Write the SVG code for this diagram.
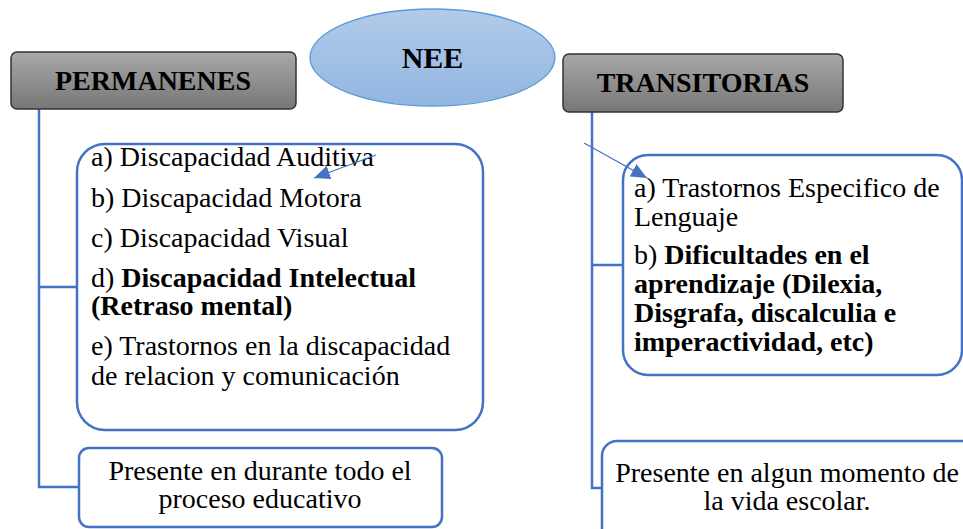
<svg xmlns="http://www.w3.org/2000/svg" width="963" height="529" viewBox="0 0 963 529" font-family="'Liberation Serif', 'DejaVu Serif', serif">
<defs>
<linearGradient id="gray" x1="0" y1="0" x2="0" y2="1">
<stop offset="0" stop-color="#a8a8a8"/>
<stop offset="1" stop-color="#777777"/>
</linearGradient>
<linearGradient id="blue" x1="0" y1="0" x2="0" y2="1">
<stop offset="0" stop-color="#b2cbe9"/>
<stop offset="1" stop-color="#92b6e1"/>
</linearGradient>
<marker id="arr" markerUnits="userSpaceOnUse" markerWidth="18" markerHeight="14" refX="16" refY="7" orient="auto">
<path d="M0,0 L16,7 L0,14 Z" fill="#4472c4"/>
</marker>
</defs>
<style>
text{fill:#000;font-size:28px}
.b{font-weight:bold}
.hdr{fill:url(#gray);stroke:#333;stroke-width:1.5}
.box{fill:#fff;stroke:#4472c4;stroke-width:2.5}
.conn{fill:none;stroke:#4472c4;stroke-width:2.5}
.arrow{fill:none;stroke:#4472c4;stroke-width:1.3}
.c{text-anchor:middle}
</style>
<rect width="963" height="529" fill="#fff"/>
<g id="connectors">
<polyline class="conn" points="39,109 39,487 79,487"/>
<line class="conn" x1="39" y1="287" x2="77" y2="287"/>
<polyline class="conn" points="592,112 592,488 602,488"/>
<line class="conn" x1="592" y1="265" x2="623" y2="265"/>
</g>
<g id="nee">
<ellipse cx="432.5" cy="57.5" rx="122.5" ry="48.5" fill="url(#blue)" stroke="#5b9bd5" stroke-width="1.3"/>
<text class="b c" x="432.5" y="68" style="font-size:30px">NEE</text>
</g>
<g id="permanenes">
<rect class="hdr" x="11" y="52" width="285" height="57" rx="6"/>
<text class="b c" x="153" y="90">PERMANENES</text>
</g>
<g id="transitorias">
<rect class="hdr" x="563" y="54" width="280" height="58" rx="6"/>
<text class="b c" x="703" y="92">TRANSITORIAS</text>
</g>
<g id="perm-list">
<rect class="box" x="77" y="144" width="406" height="286" rx="28"/>
<text x="91" y="166">a) Discapacidad Auditiva</text>
<text x="91" y="207">b) Discapacidad Motora</text>
<text x="91" y="247">c) Discapacidad Visual</text>
<text x="91" y="287">d) <tspan class="b">Discapacidad Intelectual</tspan></text>
<text x="91" y="315" class="b">(Retraso mental)</text>
<text x="91" y="355">e) Trastornos en la discapacidad</text>
<text x="91" y="385">de relacion y comunicación</text>
</g>
<g id="perm-note">
<rect class="box" x="79" y="448" width="363" height="79" rx="10"/>
<text class="c" x="260" y="480">Presente en durante todo el</text>
<text class="c" x="260" y="508">proceso educativo</text>
</g>
<g id="trans-list">
<rect class="box" x="623" y="155" width="339" height="220" rx="25"/>
<text x="634" y="197">a) Trastornos Especifico de</text>
<text x="634" y="226">Lenguaje</text>
<text x="634" y="264">b) <tspan class="b">Dificultades en el</tspan></text>
<text x="634" y="293" class="b">aprendizaje (Dilexia,</text>
<text x="634" y="322" class="b">Disgrafa, discalculia e</text>
<text x="634" y="351" class="b">imperactividad, etc)</text>
</g>
<g id="trans-note">
<rect class="box" x="602" y="441" width="380" height="120" rx="15"/>
<text class="c" x="787" y="482">Presente en algun momento de</text>
<text class="c" x="787" y="510">la vida escolar.</text>
</g>
<g id="arrows">
<line class="arrow" x1="376" y1="155" x2="314" y2="178" marker-end="url(#arr)"/>
<line class="arrow" x1="584" y1="143" x2="647" y2="178" marker-end="url(#arr)"/>
</g>
</svg>
